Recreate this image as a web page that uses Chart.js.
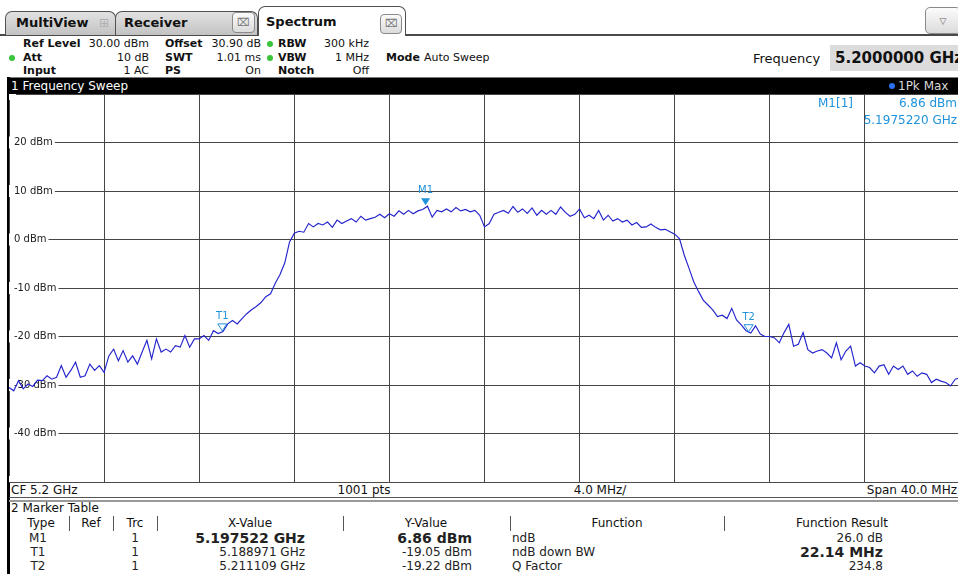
<!DOCTYPE html>
<html>
<head>
<meta charset="utf-8">
<title>Spectrum</title>
<script src="https://cdn.jsdelivr.net/npm/chart.js@4.4.1/dist/chart.umd.min.js"></script>
<style>
  html, body { margin: 0; padding: 0; }
  body { width: 958px; height: 574px; overflow: hidden; background: #fff; position: relative;
         font-family: "DejaVu Sans", sans-serif; color: #111; }
  .t { position: absolute; white-space: nowrap; line-height: 1.2; }
  .box { position: absolute; box-sizing: border-box; }
  .tab { position: absolute; box-sizing: border-box; border: 1px solid #505050; border-bottom: none;
         border-radius: 7px 7px 0 0; background: linear-gradient(#e2e2e2, #c2c2c2); }
  .close { position: absolute; box-sizing: border-box; border: 1px solid #8a8a8a; border-radius: 4px;
           background: linear-gradient(#fbfbfb, #dcdcdc); }
  .dot { position: absolute; width: 6px; height: 6px; border-radius: 50%; background: #39c439;
         transform: translate(-50%, -50%); }
  #plot { position: absolute; left: 9px; top: 94px; width: 951px; height: 388px; }
</style>
</head>
<body>

<!-- tab bar -->
<div class="box" style="left:0;top:34px;width:958px;height:2px;background:#4a4a4a"></div>
<div class="tab" style="left:5px;top:11px;width:111px;height:24px"></div>
<div class="tab" style="left:115px;top:11px;width:143px;height:24px"></div>
<div class="tab" style="left:258px;top:6px;width:148px;height:30px;background:#fff"></div>
<div class="close" style="left:232px;top:12px;width:23px;height:21px"></div>
<div class="close" style="left:380px;top:14px;width:22px;height:20px"></div>
<div class="close" style="left:925px;top:7px;width:36px;height:27px;border-radius:5px"></div>

<!-- sweep window frame -->
<div class="box" style="left:7px;top:77px;width:951px;height:17px;background:#000;border-top:1px solid #7a7a7a"></div>
<div class="box" style="left:7px;top:77px;width:3px;height:497px;background:#000"></div>

<div id="plot"><canvas id="chart" width="951" height="388"></canvas></div>

<div class="box" style="left:9px;top:482px;width:949px;height:1px;background:#4a4a4a"></div>
<div class="box" style="left:9px;top:497px;width:949px;height:1px;background:#555"></div>
<div class="box" style="left:9px;top:500px;width:949px;height:2px;background:#9a9a9a"></div>

<div id="texts"></div>

<script>
// Sweep setup: 5.18 GHz .. 5.22 GHz, one reading every 0.2 MHz
const startMHz = 5180;
const stepMHz = 0.2;
const yTicksDbm = [30, 20, 10, 0, -10, -20, -30, -40, -50];

// Trace 1 (1Pk Max), dBm
const powerDbm = [
  -30.5, -31.2, -29.1, -30.8, -29.8, -30.3, -29.0, -29.1, -28.1, -28.8,
  -28.4, -26.0, -28.4, -27.0, -25.3, -28.4, -28.1, -25.7, -27.0, -26.0,
  -27.4, -24.0, -22.6, -25.0, -22.9, -25.3, -24.0, -25.7, -23.2, -20.8,
  -24.6, -20.5, -23.2, -22.6, -23.2, -21.9, -22.2, -19.8, -22.2, -20.5,
  -20.5, -19.8, -20.8, -18.8, -19.4, -19.0, -17.4, -16.7, -17.4, -16.3,
  -15.3, -14.5, -13.8, -13.0, -11.8, -11.2, -9.0, -7.2, -4.8, -0.5,
  1.3, 1.7, 1.5, 3.3, 2.6, 3.3, 3.0, 3.6, 2.5, 4.0,
  3.3, 3.8, 4.3, 3.6, 4.8, 4.0, 4.3, 4.6, 5.2, 4.5,
  5.3, 4.8, 5.9, 5.2, 6.0, 5.3, 5.9, 6.2, 6.86, 4.6,
  6.0, 5.7, 6.3, 5.7, 6.6, 5.9, 6.2, 5.7, 6.0, 5.0,
  2.6, 3.3, 5.2, 5.6, 6.0, 5.4, 6.8, 5.6, 6.3, 5.4,
  6.5, 5.0, 6.0, 5.2, 6.0, 5.2, 6.7, 5.6, 4.8, 5.2,
  6.3, 4.5, 5.0, 4.3, 6.0, 4.0, 5.0, 3.8, 4.3, 3.6,
  4.0, 3.0, 3.5, 2.5, 2.6, 3.2, 2.5, 2.0, 2.1, 1.6,
  1.1, 0.2, -3.2, -5.9, -8.7, -10.7, -12.5, -13.5, -14.5, -15.9,
  -15.6, -16.3, -14.2, -16.6, -17.6, -18.8, -19.3, -17.8, -19.5, -20.0,
  -20.0, -20.3, -21.3, -19.2, -17.5, -22.0, -21.6, -19.2, -22.7, -23.4,
  -23.0, -22.7, -23.4, -24.4, -21.3, -24.8, -23.0, -22.0, -26.1, -25.4,
  -26.1, -26.4, -27.5, -26.1, -25.8, -27.8, -26.1, -26.8, -26.1, -27.8,
  -27.1, -28.2, -27.5, -27.8, -29.5, -28.8, -29.2, -29.5, -30.2, -28.8,
  -28.5
];

// Marker table
const markerNames = ['M1', 'T1', 'T2'];
const markerTrace = [1, 1, 1];
const markerFreqGHz = [5.197522, 5.188971, 5.211109];
const markerLevelDbm = [6.86, -19.05, -19.22];
const functionNames = ['ndB', 'ndB down BW', 'Q Factor'];
const functionResults = ['26.0 dB', '22.14 MHz', '234.8'];

const MARKER_BLUE = '#1f92dc';

// ---------- text helper ----------
const host = document.getElementById('texts');
function put(text, x, y, o = {}) {
  const d = document.createElement('div');
  d.className = 't';
  d.textContent = text;
  const ax = o.align === 'right' ? '-100%' : o.align === 'center' ? '-50%' : '0';
  d.style.left = x + 'px';
  d.style.top = y + 'px';
  d.style.fontSize = (o.size || 11) + 'px';
  d.style.fontWeight = o.bold ? 'bold' : 'normal';
  d.style.color = o.color || '#111';
  if (o.bg) { d.style.background = o.bg; }
  d.style.transform = `translate(${ax}, -50%)`;
  host.appendChild(d);
  return d;
}
function dot(x, y, color) {
  const d = document.createElement('div');
  d.className = 'dot';
  d.style.left = x + 'px';
  d.style.top = y + 'px';
  if (color) d.style.background = color;
  host.appendChild(d);
}
function vline(x, y0, y1, color) {
  const d = document.createElement('div');
  d.className = 'box';
  d.style.cssText += `left:${x}px;top:${y0}px;width:1px;height:${y1 - y0}px;background:${color}`;
  host.appendChild(d);
}

// tabs
put('MultiView', 16, 23, { size: 13, bold: true });
put('\u229E', 104, 23, { size: 12, color: '#b0b0b0', align: 'center' });
put('Receiver', 124, 23, { size: 13, bold: true });
put('\u2327', 243, 23, { size: 11, color: '#777', align: 'center' });
put('Spectrum', 266, 22, { size: 13, bold: true });
put('\u2327', 391, 24, { size: 11, color: '#777', align: 'center' });
put('\u25BD', 943, 21, { size: 9, color: '#666', align: 'center' });

// instrument settings
const rowY = [44, 57.5, 71];
put('Ref Level', 23, rowY[0], { bold: true });
put('30.00 dBm', 149, rowY[0], { align: 'right' });
dot(12, rowY[1]);
put('Att', 23, rowY[1], { bold: true });
put('10 dB', 149, rowY[1], { align: 'right' });
put('Input', 23, rowY[2], { bold: true });
put('1 AC', 149, rowY[2], { align: 'right' });

put('Offset', 165, rowY[0], { bold: true });
put('30.90 dB', 261, rowY[0], { align: 'right' });
put('SWT', 165, rowY[1], { bold: true });
put('1.01 ms', 261, rowY[1], { align: 'right' });
put('PS', 165, rowY[2], { bold: true });
put('On', 261, rowY[2], { align: 'right' });

dot(270, rowY[0]);
dot(270, rowY[1]);
put('RBW', 278, rowY[0], { bold: true });
put('300 kHz', 369, rowY[0], { align: 'right' });
put('VBW', 278, rowY[1], { bold: true });
put('1 MHz', 369, rowY[1], { align: 'right' });
put('Notch', 278, rowY[2], { bold: true });
put('Off', 369, rowY[2], { align: 'right' });

put('Mode', 386, rowY[1], { bold: true });
put('Auto Sweep', 424, rowY[1]);

put('Frequency', 753, 58.5, { size: 13 });
const fbox = document.createElement('div');
fbox.className = 'box';
fbox.style.cssText += 'left:830px;top:45px;width:130px;height:26px;background:#dcdcdc';
host.appendChild(fbox);
put('5.2000000 GHz', 835, 58, { size: 15, bold: true });

// window title bar
put('1 Frequency Sweep', 11, 86, { size: 12, color: '#fff' });
dot(892, 86, '#2a6ff2');
put('1Pk Max', 898, 86, { size: 12, color: '#d8d8d8' });

// active marker readout
put(markerNames[0] + '[' + markerTrace[0] + ']', 818, 103, { size: 12, color: MARKER_BLUE });
put(markerLevelDbm[0].toFixed(2) + ' dBm', 957, 103, { size: 12, color: MARKER_BLUE, align: 'right' });
put(markerFreqGHz[0].toFixed(7) + ' GHz', 957, 120, { size: 12, color: MARKER_BLUE, align: 'right' });

// sweep footer
put('CF 5.2 GHz', 11, 490, { size: 12 });
put('1001 pts', 364, 490, { size: 12, align: 'center' });
put('4.0 MHz/', 600, 490, { size: 12, align: 'center' });
put('Span 40.0 MHz', 957, 490, { size: 12, align: 'right' });

// marker table
put('2 Marker Table', 11, 508, { size: 12 });
const headY = 523;
[['Type', 41], ['Ref', 91], ['Trc', 135], ['X-Value', 250], ['Y-Value', 426],
 ['Function', 617], ['Function Result', 842]].forEach(([h, cx]) =>
  put(h, cx, headY, { size: 12, align: 'center' }));
[69, 113, 157, 343, 510, 724].forEach(x => vline(x, 516, 531, '#555'));

const rowsY = [537.5, 552, 566];
markerNames.forEach((name, k) => {
  const y = rowsY[k];
  put(name, 38, y, { size: 12, align: 'center', color: '#222' });
  put(String(markerTrace[k]), 135, y, { size: 12, align: 'center', color: '#222' });
  const big = k === 0;
  put(markerFreqGHz[k].toFixed(6) + ' GHz', 305, y, { size: big ? 14 : 12, bold: big, align: 'right', color: '#222' });
  put(markerLevelDbm[k].toFixed(2) + ' dBm', 472, y, { size: big ? 14 : 12, bold: big, align: 'right', color: '#222' });
  put(functionNames[k], 512, y, { size: 12, color: '#222' });
  const res = k === 1;
  put(functionResults[k], 883, y, { size: res ? 14 : 12, bold: res, align: 'right', color: '#222' });
});

// ---------- chart ----------
const points = powerDbm.map((v, i) => ({ x: startMHz + i * stepMHz, y: v }));

const markerPlugin = {
  id: 'sweepMarkers',
  afterDatasetsDraw(chart) {
    const { ctx, scales: { x, y } } = chart;
    ctx.save();
    ctx.fillStyle = MARKER_BLUE;
    ctx.strokeStyle = MARKER_BLUE;
    ctx.lineWidth = 1;
    ctx.font = '10px "DejaVu Sans", sans-serif';
    ctx.textAlign = 'center';
    ctx.textBaseline = 'middle';
    markerNames.forEach((name, k) => {
      const px = x.getPixelForValue(markerFreqGHz[k] * 1000);
      const py = y.getPixelForValue(markerLevelDbm[k]);
      ctx.beginPath();
      ctx.moveTo(px - 4.5, py - 8);
      ctx.lineTo(px + 4.5, py - 8);
      ctx.lineTo(px, py - 1);
      ctx.closePath();
      if (k === 0) ctx.fill(); else ctx.stroke();
      ctx.fillText(name, px, py - 15.5);
    });
    ctx.restore();
  }
};

new Chart(document.getElementById('chart'), {
  type: 'line',
  data: {
    datasets: [{
      label: '1Pk Max',
      data: points,
      borderColor: '#2424cc',
      borderWidth: 1.15,
      pointRadius: 0,
      tension: 0,
      fill: false
    }]
  },
  options: {
    responsive: false,
    devicePixelRatio: 1,
    animation: false,
    events: [],
    layout: { padding: 0, autoPadding: false },
    plugins: { legend: { display: false }, tooltip: { enabled: false } },
    scales: {
      x: {
        type: 'linear',
        min: startMHz,
        max: startMHz + stepMHz * (powerDbm.length - 1),
        ticks: { display: false, stepSize: 4 },
        grid: { color: '#454545', lineWidth: 1, drawTicks: false },
        border: { display: false },
        afterFit: s => { s.height = 0; s.paddingLeft = 0; s.paddingRight = 0; }
      },
      y: {
        type: 'linear',
        min: yTicksDbm[yTicksDbm.length - 1],
        max: yTicksDbm[0],
        afterBuildTicks: s => { s.ticks = yTicksDbm.map(v => ({ value: v })); },
        ticks: {
          mirror: true,
          padding: 5,
          color: '#222',
          font: { family: '"DejaVu Sans", sans-serif', size: 10 },
          showLabelBackdrop: true,
          backdropColor: '#fff',
          backdropPadding: { left: 6, right: 2, top: 0, bottom: 0 },
          callback: v => (v === yTicksDbm[0] || v === yTicksDbm[yTicksDbm.length - 1]) ? '' : v + ' dBm'
        },
        grid: { color: '#454545', lineWidth: 1, drawTicks: false },
        border: { display: false },
        afterFit: s => { s.width = 0; s.paddingTop = 0; s.paddingBottom = 0; }
      }
    }
  },
  plugins: [markerPlugin]
});
</script>
</body>
</html>
